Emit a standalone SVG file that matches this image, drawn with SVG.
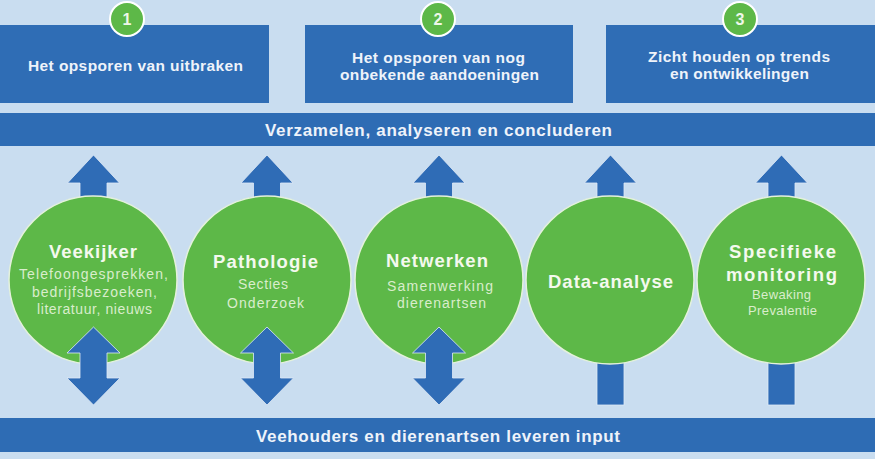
<svg xmlns="http://www.w3.org/2000/svg" xmlns:xlink="http://www.w3.org/1999/xlink" width="875" height="459" viewBox="0 0 875 459">
<style>
.bg{fill:#c9ddf0}
.box{fill:#2f6db5}
.bar{fill:#2e6cb4}
.arrow{fill:#2f6cb6;stroke:#dfeaf6;stroke-width:0.8}
.disc{fill:#5db848;stroke:#e4f1dc;stroke-width:1.5}
.badge{fill:#5db848;stroke:#ffffff;stroke-width:2}
.num{font-family:"Liberation Sans",Arial,sans-serif;font-weight:bold;font-size:16px;fill:#eef7e8;text-anchor:middle}
.btxt{font-family:"Liberation Sans",Arial,sans-serif;font-weight:bold;font-size:15.5px;fill:#eef3fa;text-anchor:middle}
.bartxt{font-family:"Liberation Sans",Arial,sans-serif;font-weight:bold;font-size:17px;fill:#eef3fa;text-anchor:middle}
.title{font-family:"Liberation Sans",Arial,sans-serif;font-weight:bold;font-size:18.5px;fill:#f4f9ee;text-anchor:middle}
.sub{font-family:"Liberation Sans",Arial,sans-serif;font-size:14px;fill:#d9edcc;text-anchor:middle}
.small{font-size:13px}
</style>
<defs>
<path id="up" d="M0,155 L26,183 L13.5,183 L13.5,215 L-13.5,215 L-13.5,183 L-26,183 Z"/>
<path id="dbl" d="M0,327 L26.5,353 L13.5,353 L13.5,378 L26.5,378 L0,405 L-26.5,378 L-13.5,378 L-13.5,353 L-26.5,353 Z"/>
<rect id="shaft" x="-13.5" y="340" width="27" height="65"/>
</defs>
<rect class="bg" x="0" y="0" width="875" height="459"/>

<g id="goal1">
<rect class="box" x="0" y="25" width="269" height="78"/>
<text class="btxt" x="135.5" y="71" textLength="215" lengthAdjust="spacing">Het opsporen van uitbraken</text>
<circle class="badge" cx="127" cy="19" r="17"/>
<text class="num" x="127" y="25">1</text>
</g>
<g id="goal2">
<rect class="box" x="305" y="25" width="268" height="78"/>
<text class="btxt" x="438.5" y="63" textLength="173" lengthAdjust="spacing">Het opsporen van nog</text>
<text class="btxt" x="439.5" y="80" textLength="199" lengthAdjust="spacing">onbekende aandoeningen</text>
<circle class="badge" cx="438" cy="19" r="17"/>
<text class="num" x="438" y="25">2</text>
</g>
<g id="goal3">
<rect class="box" x="606" y="25" width="269" height="78"/>
<text class="btxt" x="739" y="62" textLength="182" lengthAdjust="spacing">Zicht houden op trends</text>
<text class="btxt" x="739.5" y="79" textLength="139" lengthAdjust="spacing">en ontwikkelingen</text>
<circle class="badge" cx="740" cy="19" r="17"/>
<text class="num" x="740" y="25">3</text>
</g>

<g id="collect">
<rect class="bar" x="0" y="113" width="875" height="33"/>
<text class="bartxt" x="438.5" y="136" textLength="347" lengthAdjust="spacing">Verzamelen, analyseren en concluderen</text>
</g>
<g id="input">
<rect class="bar" x="0" y="418" width="875" height="34"/>
<text class="bartxt" x="438" y="442" textLength="364" lengthAdjust="spacing">Veehouders en dierenartsen leveren input</text>
</g>

<g id="connectors-up">
<use href="#up" xlink:href="#up" class="arrow" x="93.5"/>
<use href="#up" xlink:href="#up" class="arrow" x="267"/>
<use href="#up" xlink:href="#up" class="arrow" x="439"/>
<use href="#up" xlink:href="#up" class="arrow" x="610.5"/>
<use href="#up" xlink:href="#up" class="arrow" x="781.5"/>
<use href="#shaft" xlink:href="#shaft" class="arrow" x="610.5"/>
<use href="#shaft" xlink:href="#shaft" class="arrow" x="781.5"/>
</g>

<g id="veekijker">
<circle class="disc" cx="93" cy="280" r="84"/>
<text class="title" x="93" y="258" textLength="88" lengthAdjust="spacing">Veekijker</text>
<text class="sub" x="93.5" y="279" textLength="149" lengthAdjust="spacing">Telefoongesprekken,</text>
<text class="sub" x="94.5" y="297" textLength="125" lengthAdjust="spacing">bedrijfsbezoeken,</text>
<text class="sub" x="94.5" y="314" textLength="115" lengthAdjust="spacing">literatuur, nieuws</text>
</g>
<g id="pathologie">
<circle class="disc" cx="267" cy="280" r="84"/>
<text class="title" x="265.5" y="268" textLength="105" lengthAdjust="spacing">Pathologie</text>
<text class="sub" x="263" y="289" textLength="50" lengthAdjust="spacing">Secties</text>
<text class="sub" x="265.5" y="308" textLength="77" lengthAdjust="spacing">Onderzoek</text>
</g>
<g id="netwerken">
<circle class="disc" cx="439" cy="280" r="84"/>
<text class="title" x="437" y="267" textLength="102" lengthAdjust="spacing">Netwerken</text>
<text class="sub" x="440" y="291" textLength="106" lengthAdjust="spacing">Samenwerking</text>
<text class="sub" x="441.5" y="308" textLength="89" lengthAdjust="spacing">dierenartsen</text>
</g>
<g id="data-analyse">
<circle class="disc" cx="610" cy="280" r="84"/>
<text class="title" x="610.5" y="288" textLength="125" lengthAdjust="spacing">Data-analyse</text>
</g>
<g id="specifieke-monitoring">
<circle class="disc" cx="781" cy="280" r="84"/>
<text class="title" x="782.5" y="258" textLength="107" lengthAdjust="spacing">Specifieke</text>
<text class="title" x="781.5" y="281" textLength="111" lengthAdjust="spacing">monitoring</text>
<text class="sub small" x="781.5" y="299" textLength="59" lengthAdjust="spacing">Bewaking</text>
<text class="sub small" x="782.5" y="315" textLength="69" lengthAdjust="spacing">Prevalentie</text>
</g>

<g id="connectors-input">
<use href="#dbl" xlink:href="#dbl" class="arrow" x="93.5"/>
<use href="#dbl" xlink:href="#dbl" class="arrow" x="267"/>
<use href="#dbl" xlink:href="#dbl" class="arrow" x="439"/>
</g>
</svg>
